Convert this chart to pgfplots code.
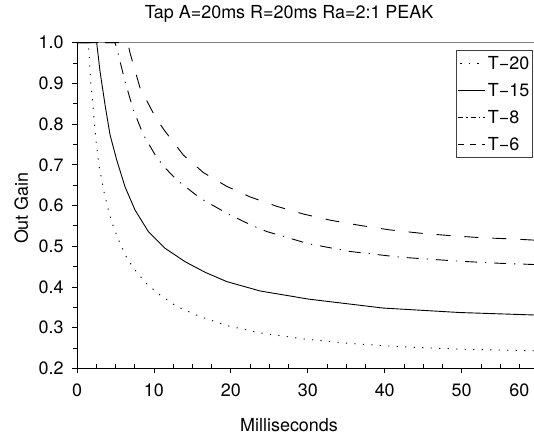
\documentclass[border=0pt]{standalone}
\usepackage{fontspec}
\setmainfont{TeX Gyre Heros}
\usepackage{pgfplots}
\pgfplotsset{compat=1.18}
\usetikzlibrary{calc}
\newcommand\F{\fontsize{18}{21.6}\selectfont}

\begin{document}
\begin{tikzpicture}
\begin{axis}[
  scale only axis, width=457bp, height=325.6bp,
  xmin=0, xmax=59.4, ymin=0.2, ymax=1.0,
  clip=false,
  axis x line*=bottom, axis y line*=left,
  axis line style={-, line width=0.8bp, black},
  xtick={0,10,20,30,40,50},
  minor xtick={2.5,5,7.5,12.5,15,17.5,22.5,25,27.5,32.5,35,37.5,42.5,45,47.5,52.5,55,57.5},
  extra x ticks={57.5}, extra x tick labels={60},
  extra x tick style={tick style={draw=none}},
  ytick={0.2,0.3,0.4,0.5,0.6,0.7,0.8,0.9,1.0},
  minor ytick={0.25,0.35,0.45,0.55,0.65,0.75,0.85,0.95},
  tick align=outside,
  major tick length=5bp, minor tick length=4bp,
  tick style={line width=0.8bp, black},
  minor x tick style={yshift=4bp},
  /pgf/number format/assume math mode=true,
  tick label style={font=\F},
  yticklabel style={/pgf/number format/fixed, /pgf/number format/fixed zerofill, /pgf/number format/precision=1, xshift=-5bp},
  xticklabel style={yshift=-7bp},
  title={Tap A=20ms R=20ms Ra=2:1 PEAK},
  title style={at={($(rel axis cs:0.464,1)+(0,18.2bp)$)}, anchor=base, font=\F},
  xlabel={Milliseconds},
  xlabel style={at={($(rel axis cs:0.464,0)+(0,-63.5bp)$)}, anchor=base, font=\F, inner sep=1bp},
  ylabel={Out Gain},
  ylabel style={at={($(rel axis cs:0,0.492)+(-49bp,0)$)}, anchor=base, font=\F},
  legend style={at={(rel axis cs:1,1)}, anchor=north east, xshift=-1.3bp, yshift=-7.3bp,
    draw=black!75, line width=0.8bp, font=\F, inner xsep=2bp, inner ysep=5.5bp,
    row sep=12bp, column sep=1bp,
    nodes={inner sep=1bp, text height=13bp, text depth=0bp}},
  legend cell align=left,
  legend image code/.code={\draw[#1, line width=0.9bp] (0bp,0bp) -- (27bp,0bp);},
]
\coordinate (SW) at (rel axis cs:0,0);
\draw[black!50, line width=0.8bp] (rel axis cs:0,1) -- (rel axis cs:1,1);

% T-20 dotted
\addplot[forget plot, black, line width=0.9bp, dash pattern=on 1.2bp off 7.3bp] coordinates {
(0,1.0) (1.47,1.0) (1.56,0.975) (1.78,0.905) (2.12,0.835) (2.43,0.766) (2.86,0.698)
(3.55,0.630) (4.07,0.589) (4.72,0.548) (5.59,0.507) (6.5,0.470) (7.76,0.436)
(9.15,0.406) (10.8,0.380) (12.96,0.352) (16,0.327) (19.47,0.305) (23.8,0.287)
(29.5,0.272) (35.5,0.261) (42,0.253) (49.8,0.247) (59.4,0.243)};

% T-15 solid
\addplot[forget plot, black, line width=0.9bp] coordinates {
(0,1.0) (2.56,1.0) (2.99,0.930) (3.64,0.848) (4.29,0.774) (5.16,0.712) (6.24,0.646)
(7.54,0.589) (9.27,0.536) (11.44,0.495) (14.04,0.462) (16.64,0.436) (19.47,0.413)
(23.8,0.390) (30.1,0.370) (39.8,0.348) (49.8,0.337) (59.4,0.331)};

% T-8 dash-dot
\addplot[forget plot, black, line width=0.9bp, dash pattern=on 12bp off 8bp on 1.2bp off 8bp] coordinates {
(0,1.0) (4.94,1.0) (5.16,0.987) (6.24,0.905) (7.32,0.835) (8.62,0.774) (10.14,0.725)
(11.22,0.697) (12.96,0.663) (16.0,0.618) (19.47,0.581) (22.5,0.553) (24.67,0.536)
(30.1,0.506) (35.5,0.487) (42,0.473) (49.8,0.463) (55,0.458) (59.4,0.455)};

% T-6 dashed
\addplot[forget plot, black, line width=0.9bp, dash pattern=on 14bp off 14bp] coordinates {
(0,1.0) (6.6,1.0) (6.89,0.975) (8.19,0.889) (10.14,0.819) (11.3,0.786) (13.82,0.724)
(16.42,0.681) (19.47,0.647) (22.5,0.621) (25.97,0.598) (29.43,0.579) (32.9,0.564)
(36.8,0.551) (40.7,0.540) (44.6,0.532) (48.5,0.526) (52.4,0.521) (56.3,0.518) (59.4,0.515)};

\addlegendimage{black, dash pattern=on 1.2bp off 7.3bp, dash phase=-2bp}
\addlegendentry{T−20}
\addlegendimage{black}
\addlegendentry{T−15}
\addlegendimage{black, dash pattern=on 5bp off 3bp on 1.2bp off 3bp}
\addlegendentry{T−8}
\addlegendimage{black, dash pattern=on 6bp off 6bp}
\addlegendentry{T−6}
\end{axis}
\pgfresetboundingbox
\path ($(SW)+(-77bp,-67.7bp)$) rectangle ++(534bp,436bp);
\end{tikzpicture}
\end{document}
